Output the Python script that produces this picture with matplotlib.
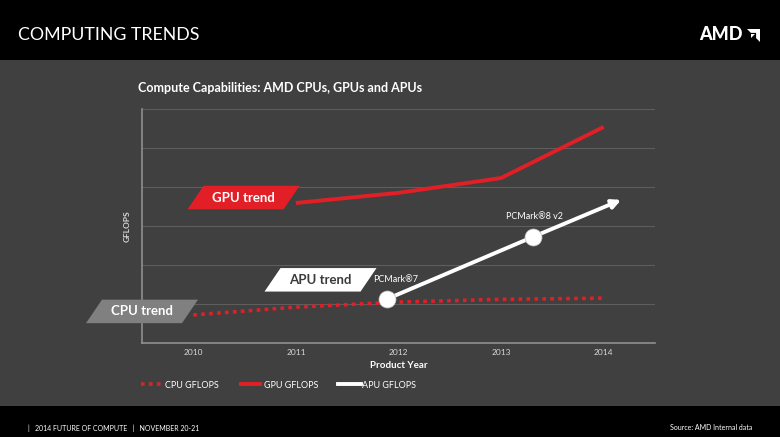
import numpy as np
import matplotlib.pyplot as plt
from matplotlib.patches import Polygon, Rectangle
from matplotlib.transforms import ScaledTranslation

plt.rcParams['font.family'] = ['Lato', 'DejaVu Sans']

# data (relative GFLOPS)
cpu_years = [2010, 2011, 2012, 2013, 2014]
cpu_gflops = [0.72, 0.92, 1.05, 1.12, 1.15]
gpu_years = [2011, 2012, 2013, 2014]
gpu_gflops = [3.59, 3.85, 4.23, 5.54]
apu_years = [2011.89, 2013.31, 2014.17]
apu_gflops = [1.13, 2.72, 3.67]
apu_labels = [u'PCMark\u00ae7', u'PCMark\u00ae8 v2']
year_ticks = [2010, 2011, 2012, 2013, 2014]

BG = '#404040'
RED = '#e21f26'


def trend_tag(ax, x, y, text, fc, tc):
    # slanted label box, size in inches around a data point
    w, h, s = 0.96, 0.235, 0.16
    verts = [(-w / 2 + s / 2, h / 2), (w / 2 + s / 2, h / 2),
             (w / 2 - s / 2, -h / 2), (-w / 2 - s / 2, -h / 2)]
    tr = ax.figure.dpi_scale_trans + ScaledTranslation(x, y, ax.transData)
    ax.add_patch(Polygon(verts, closed=True, fc=fc, ec='none',
                         transform=tr, clip_on=False, zorder=5))
    ax.text(x, y, text, color=tc, fontsize=9.5, fontweight='bold',
            ha='center', va='center', zorder=6)


fig = plt.figure(figsize=(7.8, 4.37), dpi=100, facecolor=BG)

# black bands
fig.add_artist(Rectangle((0, 1 - 60 / 437), 1, 60 / 437, transform=fig.transFigure,
                         fc='black', ec='none'))
fig.add_artist(Rectangle((0, 0), 1, 31 / 437, transform=fig.transFigure,
                         fc='black', ec='none'))
fig.text(18 / 780, 1 - 35 / 437, 'COMPUTING TRENDS', color='white', fontsize=12.8,
         va='center', ha='left')
fig.text(699 / 780, 1 - 34.5 / 437, 'AMD', color='white', fontsize=13,
         fontweight='black', va='center', ha='left')
# logo arrow
lx, ly, ls = 747 / 780, 1 - 42 / 437, 13
tr_logo = fig.dpi_scale_trans + ScaledTranslation(lx, ly, fig.transFigure)
k = ls / 100
outer = [(0, 1), (1, 1), (1, 0), (0.7, 0.3), (0.7, 0.7), (0.3, 0.7)]
inner = [(0.3, 0.0), (0.3, 0.58), (0.58, 0.58), (0.3, 0.3)]
inner = [(0.28, 0.28), (0.28, 0.6), (0.6, 0.6)]
fig.add_artist(Polygon([(a * k, b * k) for a, b in outer], fc='white', ec='none',
                       transform=tr_logo))
fig.add_artist(Polygon([(a * k, b * k) for a, b in inner], fc='white', ec='none',
                       transform=tr_logo))

fig.text(28 / 780, 1 - 428 / 437, '|   2014 FUTURE OF COMPUTE   |   NOVEMBER 20-21',
         color='white', fontsize=5, va='center', ha='left')
fig.text(752 / 780, 1 - 428 / 437, 'Source: AMD Internal data',
         color='white', fontsize=5, va='center', ha='right')

fig.text(138 / 780, 1 - 88 / 437, 'Compute Capabilities: AMD CPUs, GPUs and APUs',
         color='white', fontsize=9, fontweight='bold', va='center', ha='left')

ax = fig.add_axes([142 / 780, 1 - 343 / 437, 513 / 780, 234 / 437])
ax.set_facecolor(BG)
ax.set_xlim(2009.5, 2014.5)
ax.set_ylim(0, 6)
ax.set_yticks(range(0, 7))
ax.set_yticklabels([])
ax.tick_params(axis='y', length=0)
ax.grid(axis='y', color='#5e5e5e', lw=0.8)
ax.set_xticks(year_ticks)
ax.set_xticklabels([str(y) for y in year_ticks])
ax.tick_params(axis='x', length=0, pad=4, labelsize=6, labelcolor='#d8d8d8')
for side in ['top', 'right']:
    ax.spines[side].set_visible(False)
for side in ['left', 'bottom']:
    ax.spines[side].set_color('#8f8f8f')
    ax.spines[side].set_linewidth(1.2)
ax.set_ylabel('GFLOPS', color='#d8d8d8', fontsize=6, fontweight='bold', labelpad=5)
ax.set_xlabel('Product Year', color='white', fontsize=7, fontweight='bold', labelpad=4)

ax.plot(cpu_years, cpu_gflops, color=RED, lw=2.6, linestyle=(0, (1, 1.2)),
        dash_capstyle='butt', label='CPU GFLOPS', zorder=3)
ax.plot(gpu_years, gpu_gflops, color=RED, lw=2.8, label='GPU GFLOPS', zorder=3,
        solid_capstyle='butt')
ax.plot(apu_years[:2], apu_gflops[:2], color='white', lw=2.8, label='APU GFLOPS',
        zorder=4)
ax.annotate('', xy=(apu_years[2], apu_gflops[2]), xytext=(apu_years[1], apu_gflops[1]),
            arrowprops=dict(arrowstyle='-|>', lw=2.8, color='white',
                            mutation_scale=13, shrinkA=0, shrinkB=0), zorder=4)
ax.scatter(apu_years[:2], apu_gflops[:2], s=150, color='white', zorder=7,
           edgecolors='#bbbbbb', linewidths=0.5)
ax.annotate(apu_labels[0], (apu_years[0], apu_gflops[0]), xytext=(6, 14),
            textcoords='offset points', color='white', fontsize=6.5,
            ha='center', va='center')
ax.annotate(apu_labels[1], (apu_years[1], apu_gflops[1]), xytext=(1, 15),
            textcoords='offset points', color='white', fontsize=6.5,
            ha='center', va='center')

trend_tag(ax, 2010.49, 3.73, 'GPU trend', RED, 'white')
trend_tag(ax, 2011.24, 1.62, 'APU trend', 'white', '#3a3a3a')
trend_tag(ax, 2009.50, 0.81, 'CPU trend', '#808080', 'white')

leg = ax.legend(loc='center left', bbox_to_anchor=(139 / 780, 1 - 385 / 437),
                bbox_transform=fig.transFigure, ncol=3, frameon=False,
                fontsize=6.5, handlelength=2.6, handletextpad=0.12,
                columnspacing=2.2, labelcolor='white', borderaxespad=0,
                borderpad=0.2)

fig.savefig('out.png', dpi=100, facecolor=BG)
